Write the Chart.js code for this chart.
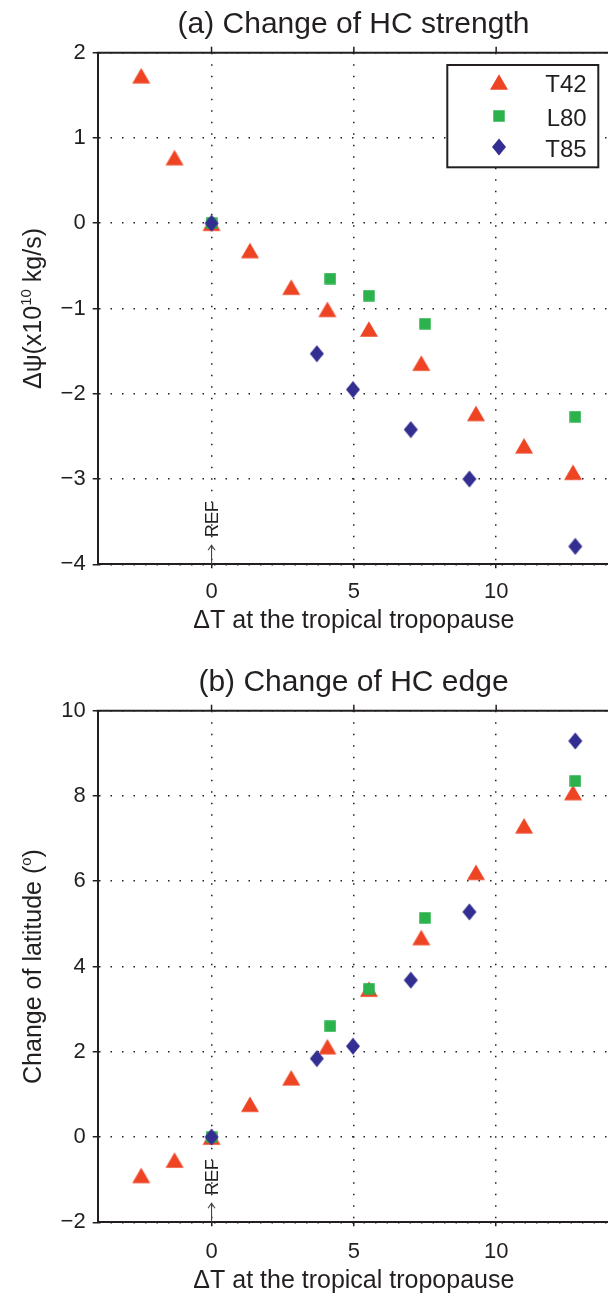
<!DOCTYPE html>
<html>
<head>
<meta charset="utf-8">
<script src="https://cdn.jsdelivr.net/npm/chart.js@4"></script>
<style>
  html, body { margin: 0; padding: 0; background: #fff; overflow: hidden; width: 608px; height: 1294px; }
  canvas { position: absolute; left: 0; }
</style>
</head>
<body>
<canvas id="chart-strength" width="640" height="658" style="top:0px"></canvas>
<canvas id="chart-edge" width="640" height="636" style="top:658px"></canvas>
<script>
// values
const seriesNames = ["T42", "L80", "T85"];
const xTicks = [0, 5, 10];

const t42X = [-2.47, -1.30, 0, 1.35, 2.80, 4.07, 5.53, 7.37, 9.29, 10.98, 12.70];
const t42Strength = [1.73, 0.77, 0, -0.32, -0.75, -1.01, -1.24, -1.64, -2.23, -2.61, -2.92];
const t42Edge = [-0.90, -0.54, 0, 0.77, 1.39, 2.12, 3.47, 4.68, 6.21, 7.30, 8.08];

const l80X = [0, 4.17, 5.53, 7.50, 12.78];
const l80Strength = [0, -0.65, -0.85, -1.18, -2.27];
const l80Edge = [0, 2.60, 3.48, 5.14, 8.35];

const t85X = [0, 3.70, 4.97, 7.00, 9.06, 12.78];
const t85Strength = [0, -1.53, -1.95, -2.42, -3.00, -3.79];
const t85Edge = [0, 1.84, 2.13, 3.68, 5.28, 9.29];

const ink = "#231f20";
const family = '"Liberation Sans", Arial, Helvetica, sans-serif';
const red = "rgb(238, 68, 36)";
const green = "rgb(44, 178, 76)";
const navy = "rgb(51, 46, 145)";

// where the plot box sits on the canvas (the right edge runs just off the page)
const plotLeft = 97.7;
const plotRight = 610;

Chart.defaults.font.family = family;
Chart.defaults.color = ink;

// marker shapes as small canvases
function makeMarker(w, h, color, draw) {
  const c = document.createElement("canvas");
  c.width = w;
  c.height = h;
  const g = c.getContext("2d");
  g.fillStyle = color;
  g.beginPath();
  draw(g);
  g.closePath();
  g.fill();
  return c;
}
const triangle = makeMarker(20, 18, red, g => {
  g.moveTo(10, 1.2); g.lineTo(19, 16.7); g.lineTo(1, 16.7);
});
const square = makeMarker(12, 12, green, g => {
  g.rect(0.25, 0.25, 11.5, 11.5);
});
const diamond = makeMarker(16, 18, navy, g => {
  g.moveTo(8, 0.5); g.lineTo(15, 9); g.lineTo(8, 17.5); g.lineTo(1, 9);
});
const markers = [triangle, square, diamond];

function pairs(xs, ys) {
  return xs.map((v, i) => ({ x: v, y: ys[i] }));
}

function minusSign(v) {
  return v < 0 ? "\u2212" + Math.abs(v) : String(v);
}

function drawRotated(ctx, parts, cx, cy) {
  let total = 0;
  parts.forEach(p => {
    ctx.font = p.size + "px " + family;
    p.w = ctx.measureText(p.text).width;
    total += p.w;
  });
  ctx.save();
  ctx.translate(cx, cy);
  ctx.rotate(-Math.PI / 2);
  ctx.textAlign = "left";
  ctx.textBaseline = "alphabetic";
  let pos = -total / 2;
  parts.forEach(p => {
    ctx.font = p.size + "px " + family;
    ctx.fillText(p.text, pos, -(p.rise || 0));
    pos += p.w;
  });
  ctx.restore();
}

const frameAndText = {
  id: "frameAndText",
  afterDraw(chart, args, opts) {
    const { ctx, chartArea: a, scales: { x } } = chart;
    ctx.save();
    ctx.strokeStyle = ink;
    ctx.fillStyle = ink;

    // top frame line with outward ticks
    ctx.lineWidth = 2;
    ctx.beginPath();
    ctx.moveTo(a.left - 1, a.top);
    ctx.lineTo(a.right, a.top);
    ctx.stroke();
    ctx.lineWidth = 1.5;
    xTicks.forEach(v => {
      const px = x.getPixelForValue(v);
      ctx.beginPath();
      ctx.moveTo(px, a.top);
      ctx.lineTo(px, a.top - 6);
      ctx.stroke();
    });

    // panel title
    ctx.font = "30px " + family;
    ctx.textAlign = "center";
    ctx.textBaseline = "alphabetic";
    ctx.fillText(opts.title, 353.5, 33);

    // y axis title with superscript
    drawRotated(ctx, opts.yLabel, 41, (a.top + a.bottom) / 2);

    // REF marker at x = 0: small upward arrow then rotated text
    const x0 = x.getPixelForValue(0);
    ctx.strokeStyle = "#444";
    ctx.lineWidth = 1.1;
    ctx.beginPath();
    ctx.moveTo(x0, a.bottom);
    ctx.lineTo(x0, a.bottom - 19);
    ctx.moveTo(x0 - 3.5, a.bottom - 14);
    ctx.lineTo(x0, a.bottom - 19);
    ctx.lineTo(x0 + 3.5, a.bottom - 14);
    ctx.stroke();
    ctx.save();
    ctx.translate(x0 + 6.5, a.bottom - 27);
    ctx.rotate(-Math.PI / 2);
    ctx.font = "18px " + family;
    ctx.textAlign = "left";
    ctx.fillText("REF", 0, 0);
    ctx.restore();

    // legend
    if (opts.legend) {
      const bx = 447.3, by = a.top + 12.3, bw = 151, bh = 102.3;
      ctx.fillStyle = "#fff";
      ctx.fillRect(bx, by, bw, bh);
      ctx.strokeStyle = ink;
      ctx.lineWidth = 2;
      ctx.strokeRect(bx, by, bw, bh);
      const rows = [17.3, 51, 82.3];
      ctx.font = "24px " + family;
      ctx.textAlign = "right";
      ctx.fillStyle = ink;
      seriesNames.forEach((name, i) => {
        const m = markers[i];
        const cy = by + rows[i];
        ctx.drawImage(m, Math.round(bx + 52 - m.width / 2), Math.round(cy - m.height / 2));
        ctx.fillText(name, bx + 139.4, cy + 9.5);
      });
    }
    ctx.restore();
  }
};

function makeChart(id, cfg) {
  const datasets = [
    { label: "T42", data: pairs(t42X, cfg.t42), pointStyle: triangle, order: 3 },
    { label: "L80", data: pairs(l80X, cfg.l80), pointStyle: square, order: 2 },
    { label: "T85", data: pairs(t85X, cfg.t85), pointStyle: diamond, order: 1 },
  ];
  const chart = new Chart(document.getElementById(id), {
    type: "scatter",
    data: { datasets: datasets },
    options: {
      responsive: false,
      animation: false,
      events: [],
      elements: { point: { radius: 8 } },
      layout: { padding: { left: 37.7, right: 30, top: 52.7, bottom: cfg.padBottom } },
      scales: {
        x: {
          type: "linear",
          min: -4,
          max: 14,
          afterBuildTicks: s => { s.ticks = xTicks.map(v => ({ value: v })); },
          afterFit: s => { s.height = 71.7; },
          ticks: { font: { size: 22 }, padding: cfg.xTickPad, color: ink, callback: minusSign },
          grid: {
            color: ink,
            lineWidth: 1.5,
            tickLength: 4,
            tickColor: ink,
            tickWidth: 1.5,
            tickBorderDash: [],
          },
          border: { display: true, color: ink, width: 2, dash: [1.5, 10] },
          title: {
            display: true,
            text: "\u0394T at the tropical tropopause",
            font: { size: 25 },
            color: ink,
            padding: { top: 0, bottom: cfg.titlePad },
          },
        },
        y: {
          min: cfg.yMin,
          max: cfg.yMax,
          afterFit: s => { s.width = 60; },
          ticks: { stepSize: cfg.yStep, font: { size: 22 }, padding: 7, color: ink, callback: minusSign },
          grid: {
            color: ink,
            lineWidth: 1.5,
            tickLength: 5,
            tickColor: ink,
            tickWidth: 1.5,
            tickBorderDash: [],
          },
          border: { display: true, color: ink, width: 2, dash: [1.5, 10] },
        },
      },
      plugins: {
        legend: { display: false },
        tooltip: { enabled: false },
        frameAndText: { title: cfg.title, yLabel: cfg.yLabel, legend: cfg.legend },
      },
    },
    plugins: [frameAndText],
  });
  // nudge the layout padding so the plot box lands where the figure has it
  const pad = chart.options.layout.padding;
  const dl = chart.chartArea.left - plotLeft;
  const dr = chart.chartArea.right - plotRight;
  if (Math.abs(dl) > 0.1 || Math.abs(dr) > 0.1) {
    pad.left -= dl;
    pad.right += dr;
    chart.update();
  }
  return chart;
}

makeChart("chart-strength", {
  t42: t42Strength, l80: l80Strength, t85: t85Strength,
  yMin: -4, yMax: 2, yStep: 1,
  padBottom: 22, xTickPad: 10, titlePad: 0,
  title: "(a) Change of HC strength",
  yLabel: [
    { text: "\u0394\u03c8(x10", size: 25 },
    { text: "10", size: 15, rise: 10 },
    { text: " kg/s)", size: 25 },
  ],
  legend: true,
});

makeChart("chart-edge", {
  t42: t42Edge, l80: l80Edge, t85: t85Edge,
  yMin: -2, yMax: 10, yStep: 2,
  padBottom: 0, xTickPad: 12, titlePad: -2,
  title: "(b) Change of HC edge",
  yLabel: [
    { text: "Change of latitude (", size: 25 },
    { text: "o", size: 15, rise: 10 },
    { text: ")", size: 25 },
  ],
  legend: false,
});
</script>
</body>
</html>
